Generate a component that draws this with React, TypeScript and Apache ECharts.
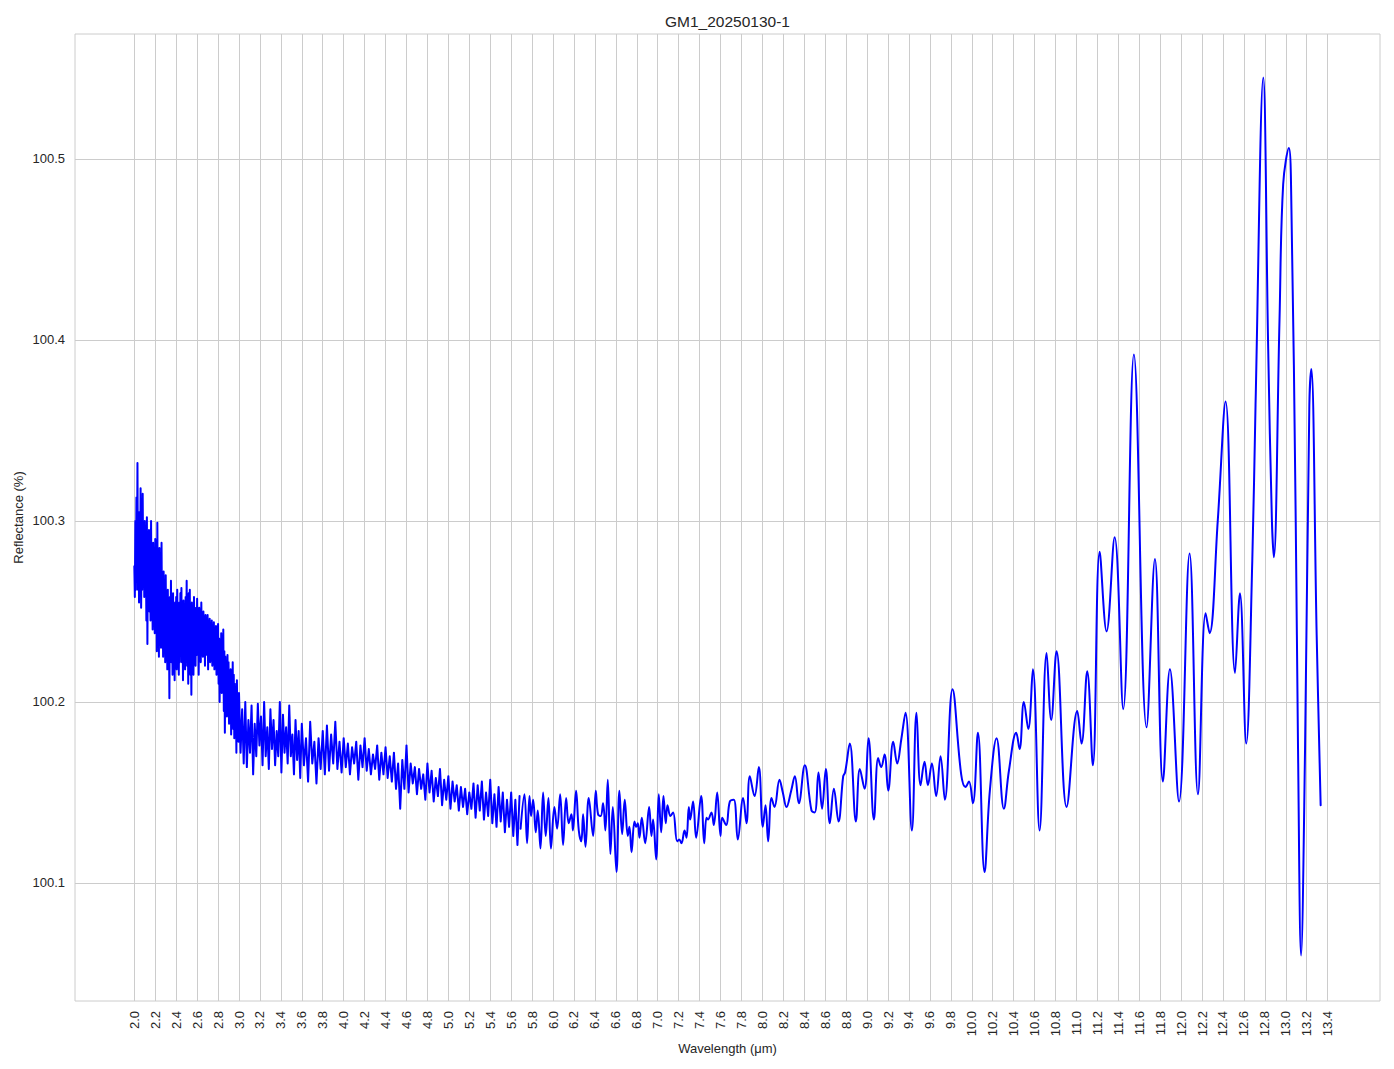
import React, { useEffect, useRef } from "react";
import * as echarts from "echarts";

const chartTitle = "GM1_20250130-1";
const xAxisTitle = "Wavelength (μm)";
const yAxisTitle = "Reflectance (%)";

const xTicks = [
  2.0, 2.2, 2.4, 2.6, 2.8, 3.0, 3.2, 3.4, 3.6, 3.8, 4.0, 4.2, 4.4, 4.6, 4.8, 5.0,
  5.2, 5.4, 5.6, 5.8, 6.0, 6.2, 6.4, 6.6, 6.8, 7.0, 7.2, 7.4, 7.6, 7.8, 8.0, 8.2,
  8.4, 8.6, 8.8, 9.0, 9.2, 9.4, 9.6, 9.8, 10.0, 10.2, 10.4, 10.6, 10.8, 11.0, 11.2,
  11.4, 11.6, 11.8, 12.0, 12.2, 12.4, 12.6, 12.8, 13.0, 13.2, 13.4,
];
const yTicks = [100.1, 100.2, 100.3, 100.4, 100.5];

// 2.000 – 2.995 µm, sampled every 0.005 µm
const shortStart = 2.0;
const shortStep = 0.005;
const shortReflectance = [
  100.275, 100.258, 100.300, 100.262, 100.313, 100.270, 100.332, 100.262, 100.298, 100.255,
  100.305, 100.268, 100.318, 100.252, 100.290, 100.262, 100.315, 100.270, 100.296, 100.258,
  100.300, 100.262, 100.285, 100.245, 100.302, 100.232, 100.290, 100.258, 100.295, 100.250,
  100.278, 100.245, 100.300, 100.255, 100.276, 100.240, 100.288, 100.248, 100.268, 100.238,
  100.290, 100.250, 100.275, 100.228, 100.299, 100.240, 100.262, 100.225, 100.285, 100.238,
  100.270, 100.230, 100.288, 100.242, 100.258, 100.225, 100.272, 100.232, 100.262, 100.222,
  100.270, 100.228, 100.255, 100.218, 100.262, 100.232, 100.248, 100.202, 100.258, 100.225,
  100.267, 100.222, 100.250, 100.215, 100.260, 100.228, 100.245, 100.212, 100.255, 100.225,
  100.258, 100.218, 100.262, 100.230, 100.248, 100.215, 100.255, 100.222, 100.260, 100.228,
  100.263, 100.222, 100.250, 100.212, 100.256, 100.230, 100.245, 100.218, 100.258, 100.225,
  100.267, 100.220, 100.252, 100.210, 100.260, 100.228, 100.262, 100.215, 100.248, 100.204,
  100.255, 100.222, 100.248, 100.215, 100.258, 100.230, 100.245, 100.220, 100.252, 100.226,
  100.257, 100.228, 100.245, 100.215, 100.252, 100.232, 100.248, 100.222, 100.255, 100.230,
  100.245, 100.225, 100.250, 100.233, 100.242, 100.220, 100.248, 100.235, 100.240, 100.226,
  100.248, 100.218, 100.243, 100.230, 100.246, 100.222, 100.238, 100.228, 100.245, 100.220,
  100.240, 100.225, 100.244, 100.218, 100.236, 100.228, 100.242, 100.215, 100.238, 100.226,
  100.243, 100.210, 100.235, 100.200, 100.230, 100.215, 100.238, 100.205, 100.232, 100.212,
  100.240, 100.195, 100.228, 100.183, 100.225, 100.200, 100.222, 100.192, 100.226, 100.198,
  100.222, 100.188, 100.215, 100.195, 100.218, 100.182, 100.212, 100.190, 100.222, 100.185,
  100.215, 100.180, 100.210, 100.190, 100.205, 100.172, 100.212, 100.185, 100.200, 100.178,
];

// 3.000 – 3.585 µm, sampled every 0.015 µm
const midStartA = 3.0;
const midStepA = 0.015;
const midReflectanceA = [
  100.205, 100.172, 100.196, 100.166, 100.200, 100.164, 100.190, 100.172, 100.198, 100.160,
  100.188, 100.170, 100.199, 100.176, 100.192, 100.165, 100.200, 100.170, 100.186, 100.163,
  100.196, 100.174, 100.190, 100.165, 100.184, 100.170, 100.200, 100.161, 100.193, 100.172,
  100.186, 100.166, 100.198, 100.170, 100.182, 100.160, 100.190, 100.168, 100.184, 100.158,
];

// 3.60 – 5.68 µm, sampled every 0.02 µm
const midStartB = 3.6;
const midStepB = 0.02;
const midReflectanceB = [
  100.188, 100.165, 100.180, 100.156, 100.189, 100.166, 100.178, 100.155, 100.180, 100.163,
  100.184, 100.160, 100.187, 100.162, 100.182, 100.166, 100.189, 100.163, 100.178, 100.161,
  100.180, 100.164, 100.177, 100.160, 100.175, 100.166, 100.178, 100.157, 100.176, 100.164,
  100.180, 100.162, 100.174, 100.160, 100.171, 100.163, 100.176, 100.157, 100.172, 100.160,
  100.175, 100.158, 100.170, 100.156, 100.172, 100.152, 100.166, 100.141, 100.168, 100.152,
  100.176, 100.150, 100.166, 100.155, 100.164, 100.149, 100.163, 100.152, 100.160, 100.146,
  100.166, 100.150, 100.162, 100.145, 100.158, 100.148, 100.163, 100.143, 100.157, 100.146,
  100.159, 100.141, 100.156, 100.145, 100.154, 100.140, 100.153, 100.142, 100.152, 100.138,
  100.150, 100.141, 100.155, 100.136, 100.154, 100.140, 100.156, 100.135, 100.150, 100.137,
  100.157, 100.133, 100.149, 100.131, 100.153, 100.134, 100.150, 100.128, 100.146, 100.131,
  100.150, 100.126, 100.146, 100.121, 100.148,
];

// 5.69 – 13.33 µm, turning points of the smoother long-wave part
const longWavelength = [
  5.69, 5.727, 5.752, 5.775, 5.79, 5.81, 5.835, 5.854, 5.88, 5.905, 5.93, 5.956, 5.98,
  6.013, 6.039, 6.068, 6.096, 6.125, 6.15, 6.176, 6.19, 6.22, 6.246, 6.27, 6.287, 6.31,
  6.341, 6.383, 6.408, 6.43, 6.455, 6.478, 6.5, 6.523, 6.548, 6.571, 6.606, 6.634, 6.66,
  6.685, 6.714, 6.73, 6.75, 6.778, 6.795, 6.81, 6.826, 6.848, 6.88, 6.918, 6.94, 6.956,
  6.985, 7.01, 7.033, 7.055, 7.077, 7.093, 7.122, 7.147, 7.186, 7.205, 7.227, 7.256,
  7.275, 7.297, 7.31, 7.338, 7.367, 7.415, 7.444, 7.466, 7.48, 7.513, 7.536, 7.568, 7.6,
  7.616, 7.654, 7.689, 7.727, 7.765, 7.816, 7.848, 7.88, 7.925, 7.966, 8.004, 8.03,
  8.055, 8.087, 8.116, 8.163, 8.195, 8.23, 8.275, 8.31, 8.348, 8.405, 8.469, 8.5, 8.536,
  8.57, 8.606, 8.644, 8.683, 8.727, 8.772, 8.79, 8.835, 8.893, 8.931, 8.976, 9.014,
  9.065, 9.106, 9.135, 9.167, 9.202, 9.25, 9.288, 9.326, 9.367, 9.428, 9.472, 9.511,
  9.549, 9.581, 9.619, 9.66, 9.702, 9.743, 9.816, 9.899, 9.941, 9.973, 10.011, 10.059,
  10.122, 10.173, 10.237, 10.307, 10.355, 10.425, 10.457, 10.498, 10.54, 10.584, 10.648,
  10.715, 10.759, 10.81, 10.906, 11.008, 11.049, 11.103, 11.157, 11.222, 11.288, 11.365,
  11.447, 11.549, 11.67, 11.75, 11.826, 11.893, 11.98, 12.081, 12.161, 12.234, 12.272,
  12.35, 12.425, 12.515, 12.562, 12.622, 12.68, 12.711, 12.785, 12.832, 12.867, 12.886,
  12.94, 12.975, 13.029, 13.054, 13.095, 13.117, 13.146, 13.184, 13.225, 13.244, 13.295,
  13.333,
];
const longReflectance = [
  100.130, 100.149, 100.122, 100.148, 100.137, 100.146, 100.128, 100.140, 100.119, 100.150, 100.126, 100.147, 100.119,
  100.142, 100.130, 100.149, 100.121, 100.147, 100.133, 100.138, 100.129, 100.151, 100.129, 100.123, 100.138, 100.120,
  100.147, 100.126, 100.151, 100.138, 100.137, 100.144, 100.129, 100.157, 100.116, 100.142, 100.106, 100.151, 100.127,
  100.146, 100.126, 100.131, 100.117, 100.134, 100.131, 100.133, 100.125, 100.136, 100.122, 100.142, 100.126, 100.135,
  100.113, 100.149, 100.128, 100.148, 100.133, 100.143, 100.137, 100.139, 100.123, 100.124, 100.122, 100.129,
  100.125, 100.142, 100.135, 100.145, 100.125, 100.148, 100.122, 100.136, 100.135, 100.139, 100.132, 100.150, 100.126,
  100.136, 100.132, 100.145, 100.146, 100.124, 100.147, 100.133, 100.159, 100.148, 100.164, 100.131, 100.143,
  100.123, 100.147, 100.142, 100.157, 100.150, 100.142, 100.151, 100.159, 100.144, 100.165, 100.140, 100.139, 100.161,
  100.141, 100.163, 100.133, 100.152, 100.134, 100.159, 100.161, 100.177, 100.134, 100.163, 100.152, 100.180,
  100.135, 100.169, 100.164, 100.171, 100.151, 100.178, 100.166, 100.179, 100.194, 100.129, 100.194, 100.154,
  100.167, 100.154, 100.166, 100.148, 100.170, 100.146, 100.207, 100.160, 100.153, 100.156, 100.144, 100.183,
  100.106, 100.151, 100.180, 100.141, 100.162, 100.183, 100.174, 100.200, 100.185, 100.218, 100.129,
  100.227, 100.190, 100.228, 100.142, 100.195, 100.177, 100.217, 100.165, 100.283, 100.239, 100.291,
  100.196, 100.392, 100.186, 100.279, 100.156, 100.218, 100.145, 100.282, 100.149, 100.249, 100.238,
  100.300, 100.366, 100.216, 100.260, 100.177, 100.278, 100.364, 100.545, 100.395, 100.301, 100.280,
  100.411, 100.486, 100.506, 100.472, 100.300, 100.174, 100.060, 100.174, 100.364, 100.384, 100.237,
  100.143,
];

const FONT = '"Liberation Sans", Arial, Helvetica, sans-serif';
const TEXT = "#262626";
const GRIDC = "#cccccc";
const LINE = "#0000ff";

export default function App() {
  const ref = useRef<HTMLDivElement>(null);

  useEffect(() => {
    if (!ref.current) return;
    const chart = echarts.init(ref.current, undefined, { renderer: "svg" });

    const noisy: number[][] = [];
    const addSampled = (start: number, step: number, vals: number[]) => {
      vals.forEach((v, i) => noisy.push([+(start + i * step).toFixed(4), v]));
    };
    addSampled(shortStart, shortStep, shortReflectance);
    addSampled(midStartA, midStepA, midReflectanceA);
    addSampled(midStartB, midStepB, midReflectanceB);
    const smoothPart = longWavelength.map((w, i) => [w, longReflectance[i]]);

    const option: any = {
      animation: false,
      backgroundColor: "#ffffff",
      textStyle: { fontFamily: FONT },
      grid: {
        left: 75,
        right: 14,
        top: 34,
        bottom: 68,
        show: true,
        borderColor: GRIDC,
        borderWidth: 1,
        backgroundColor: "transparent",
      },
      xAxis: {
        type: "value",
        min: 1.4333,
        max: 13.9,
        axisLine: { show: false },
        axisTick: { show: false, customValues: xTicks },
        axisLabel: {
          customValues: xTicks,
          rotate: 90,
          margin: 10,
          fontSize: 13,
          color: TEXT,
          fontFamily: FONT,
          formatter: (v: number) => v.toFixed(1),
        },
        splitLine: { show: true, lineStyle: { color: GRIDC, width: 1 } },
      },
      yAxis: {
        type: "value",
        min: 100.0348,
        max: 100.569,
        axisLine: { show: false },
        axisTick: { show: false, customValues: yTicks },
        axisLabel: {
          customValues: yTicks,
          margin: 10,
          fontSize: 13,
          color: TEXT,
          fontFamily: FONT,
          formatter: (v: number) => v.toFixed(1),
        },
        splitLine: { show: true, lineStyle: { color: GRIDC, width: 1 } },
      },
      graphic: [
        {
          type: "text",
          x: 727.5,
          y: 21,
          style: {
            text: chartTitle,
            fontSize: 15.5,
            fill: TEXT,
            align: "center",
            verticalAlign: "middle",
            fontFamily: FONT,
          },
        },
        {
          type: "text",
          x: 727.5,
          y: 1048,
          style: {
            text: xAxisTitle,
            fontSize: 13,
            fill: TEXT,
            align: "center",
            verticalAlign: "middle",
            fontFamily: FONT,
          },
        },
        {
          type: "text",
          x: 18,
          y: 517.5,
          rotation: Math.PI / 2,
          style: {
            text: yAxisTitle,
            fontSize: 13,
            fill: TEXT,
            align: "center",
            verticalAlign: "middle",
            fontFamily: FONT,
          },
        },
      ],
      series: [
        {
          type: "line",
          data: noisy,
          showSymbol: false,
          symbol: "none",
          smooth: false,
          lineStyle: { color: LINE, width: 2, join: "round", cap: "round" },
          z: 3,
        },
        {
          type: "line",
          data: smoothPart,
          showSymbol: false,
          symbol: "none",
          smooth: 0.4,
          lineStyle: { color: LINE, width: 2, join: "round", cap: "round" },
          z: 3,
        },
      ],
    };

    chart.setOption(option);
    return () => chart.dispose();
  }, []);

  return (
    <div
      ref={ref}
      style={{ position: "fixed", left: 0, top: 0, width: 1394, height: 1069, background: "#fff" }}
    />
  );
}
